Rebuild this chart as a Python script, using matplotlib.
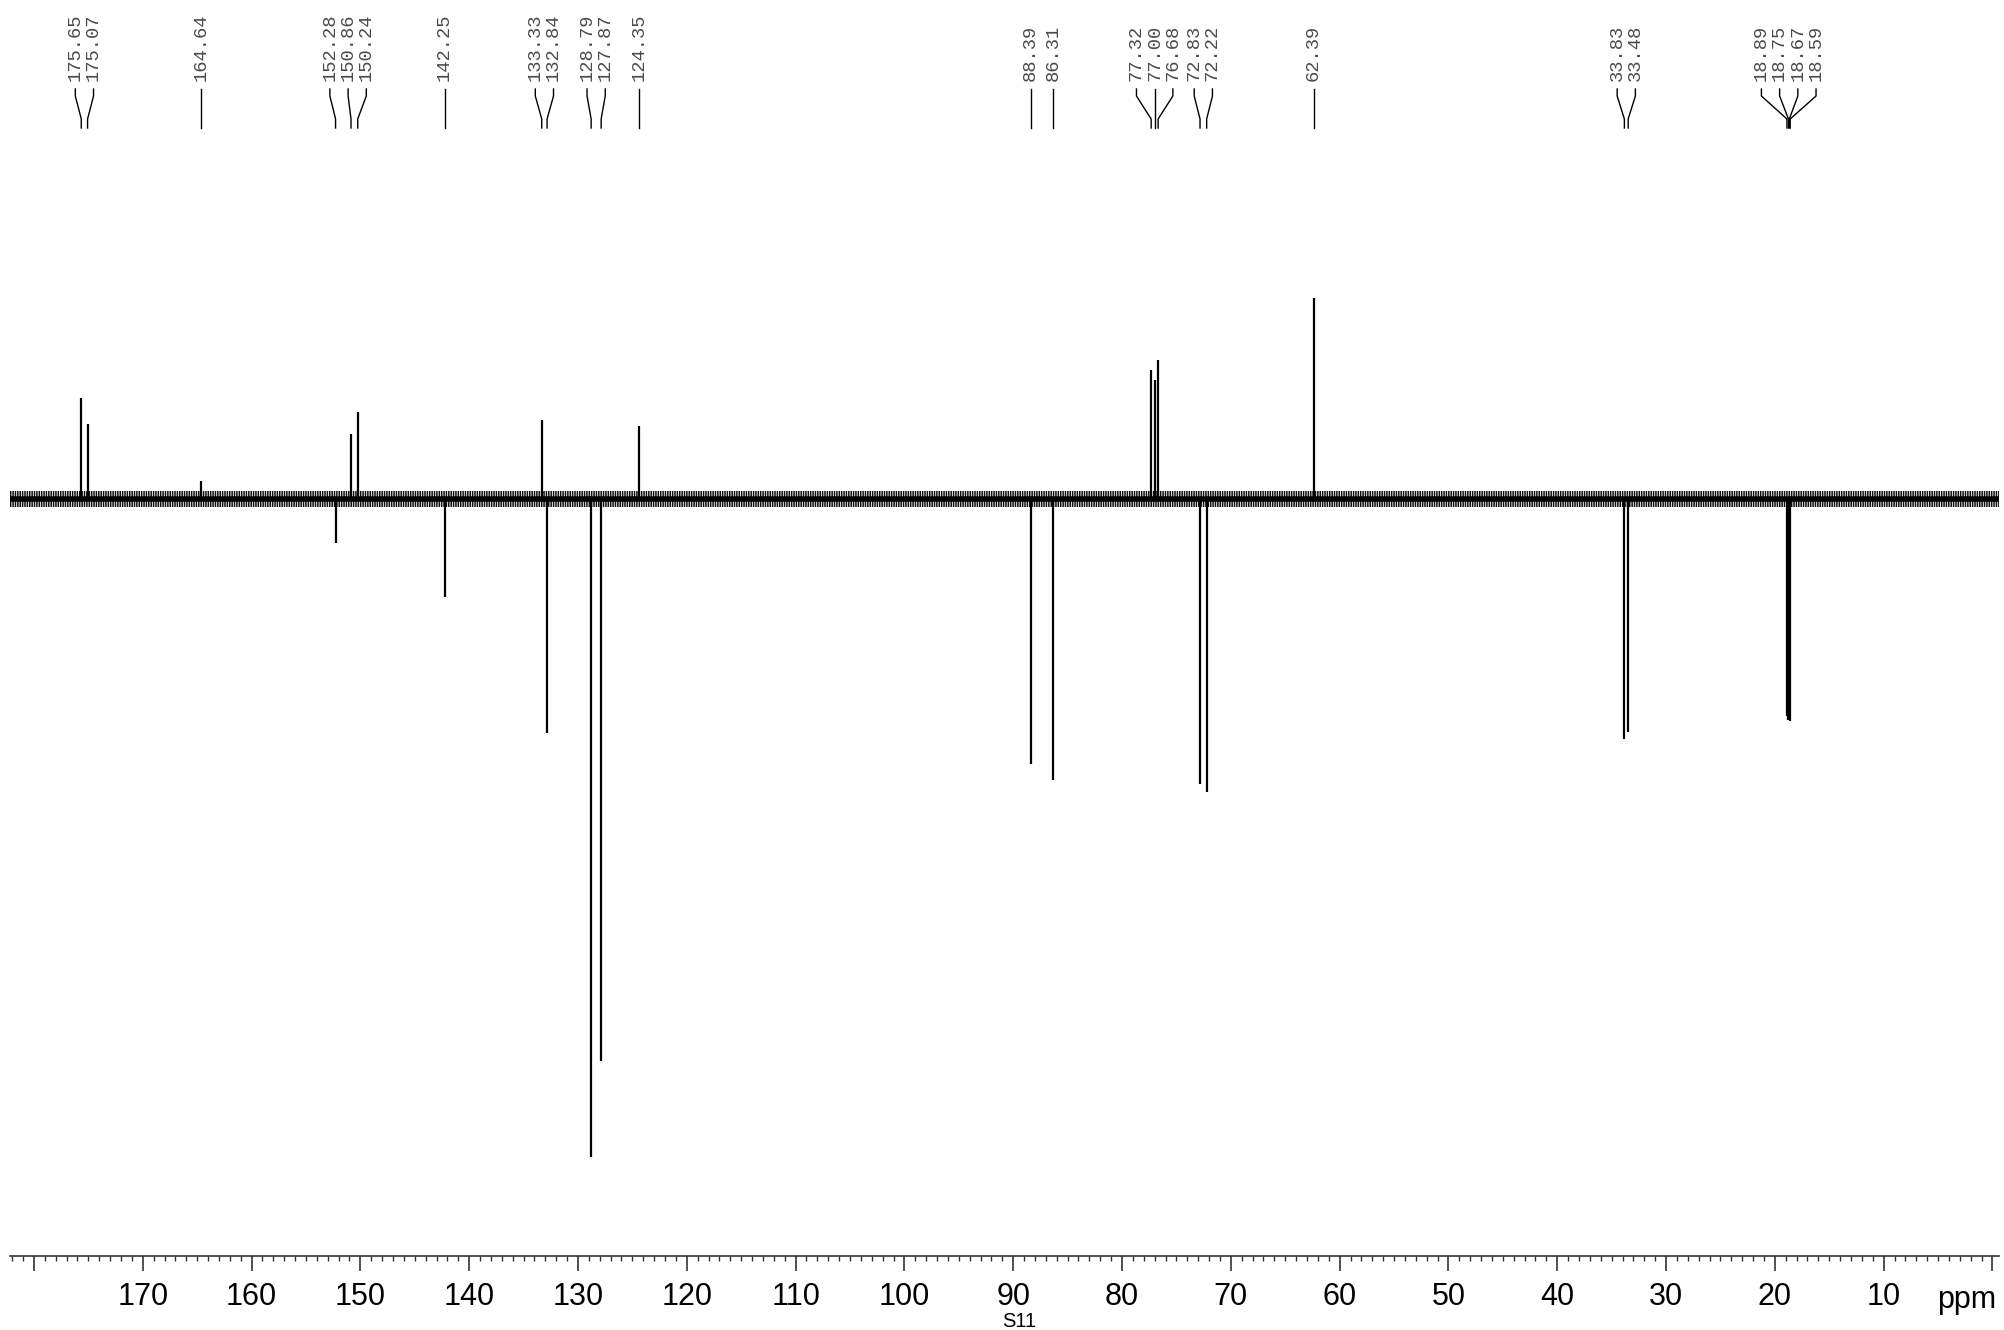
import numpy as np
import matplotlib.pyplot as plt
from matplotlib.ticker import FixedLocator, MultipleLocator, FuncFormatter
from matplotlib.transforms import blended_transform_factory

# peak shifts (ppm) and DEPT intensities (arbitrary units, + up / - down)
shifts = [175.65, 175.07, 164.64, 152.28, 150.86, 150.24, 142.25, 133.33, 132.84,
          128.79, 127.87, 124.35, 88.39, 86.31, 77.32, 77.00, 76.68, 72.83, 72.22,
          62.39, 33.83, 33.48, 18.89, 18.75, 18.67, 18.59]
intens = [79, 59, 14, -34, 51, 68, -77, 62, -183,
          -515, -440, 57, -207, -220, 101, 93, 109, -223, -229,
          157, -188, -182, -170, -173, -172, -174]
labels = ["%.2f" % s for s in shifts]
tick_vals = list(range(0, 190, 10))

W, H = 2004, 1330
plt.rcParams["hatch.linewidth"] = 1.1
fig = plt.figure(figsize=(W / 100, H / 100), dpi=100)
ax = fig.add_axes([10 / W, 1 - 1256 / H, 1989 / W, 1256 / H])

ax.set_xlim(182.2, -0.6)
ax.set_ylim(-592.3, 390.5)

# noisy baseline: core line plus a hatched band, peaks as sticks
ax.axhspan(-6.5, 6.5, facecolor="none", edgecolor="#111111", hatch="|||||||", lw=0)
ax.axhline(0, color="black", lw=4)
ax.vlines(shifts, 0, intens, color="black", lw=1.6)

for s in ["top", "left", "right"]:
    ax.spines[s].set_visible(False)
ax.spines["bottom"].set_color("#333333")
ax.spines["bottom"].set_linewidth(1.2)
ax.set_yticks([])

ax.xaxis.set_major_locator(FixedLocator(tick_vals))
ax.xaxis.set_minor_locator(MultipleLocator(1))
ax.xaxis.set_major_formatter(FuncFormatter(lambda v, p: "" if v in (0, 180) else "%d" % v))
ax.tick_params(axis="x", which="major", length=11, width=1.2, color="#333333",
               pad=8, labelsize=22)
ax.tick_params(axis="x", which="minor", length=3.6, width=1.0, color="#333333")
for t in ax.get_xticklabels():
    t.set_fontfamily("Liberation Sans")

fig.text(1967 / W, 1 - 1308 / H, "ppm", fontsize=22, family="Liberation Sans",
         ha="center", va="baseline")
fig.text(1019 / W, 1 - 1327 / H, "S11", fontsize=14.5, family="Liberation Sans",
         ha="center", va="baseline")


# spread the peak labels so that they do not overlap
def spread(xs, gap):
    order = np.argsort(xs)
    groups = [[xs[i]] for i in order]
    idx = [[i] for i in order]
    changed = True
    while changed:
        changed = False
        pos = []
        for g in groups:
            c = np.mean(g)
            n = len(g)
            pos.append([c + (k - (n - 1) / 2) * gap for k in range(n)])
        for j in range(len(groups) - 1):
            if pos[j][-1] + gap > pos[j + 1][0] + 1e-9:
                groups[j] = groups[j] + groups[j + 1]
                idx[j] = idx[j] + idx[j + 1]
                del groups[j + 1]
                del idx[j + 1]
                changed = True
                break
    out = np.zeros(len(xs))
    for g, ii in zip(groups, idx):
        c = np.mean(g)
        n = len(g)
        for k, i in enumerate(ii):
            out[i] = c + (k - (n - 1) / 2) * gap
    return out


lab_pos = spread(np.array(shifts), 1.673)
tr = blended_transform_factory(ax.transData, fig.transFigure)
y_txt = 1 - 81 / H
y1, y2, y3, y4 = [1 - v / H for v in (89, 96, 119, 128)]
for s, lp, lab in zip(shifts, lab_pos, labels):
    ax.plot([lp, lp, s, s], [y1, y2, y3, y4], transform=tr, color="black",
            lw=1.0, clip_on=False)
    ax.text(lp, y_txt, lab, transform=tr, rotation=90, ha="center", va="bottom",
            fontsize=13.5, family="Liberation Mono", color="#4a4a4a")

fig.savefig("out.png", dpi=100)
